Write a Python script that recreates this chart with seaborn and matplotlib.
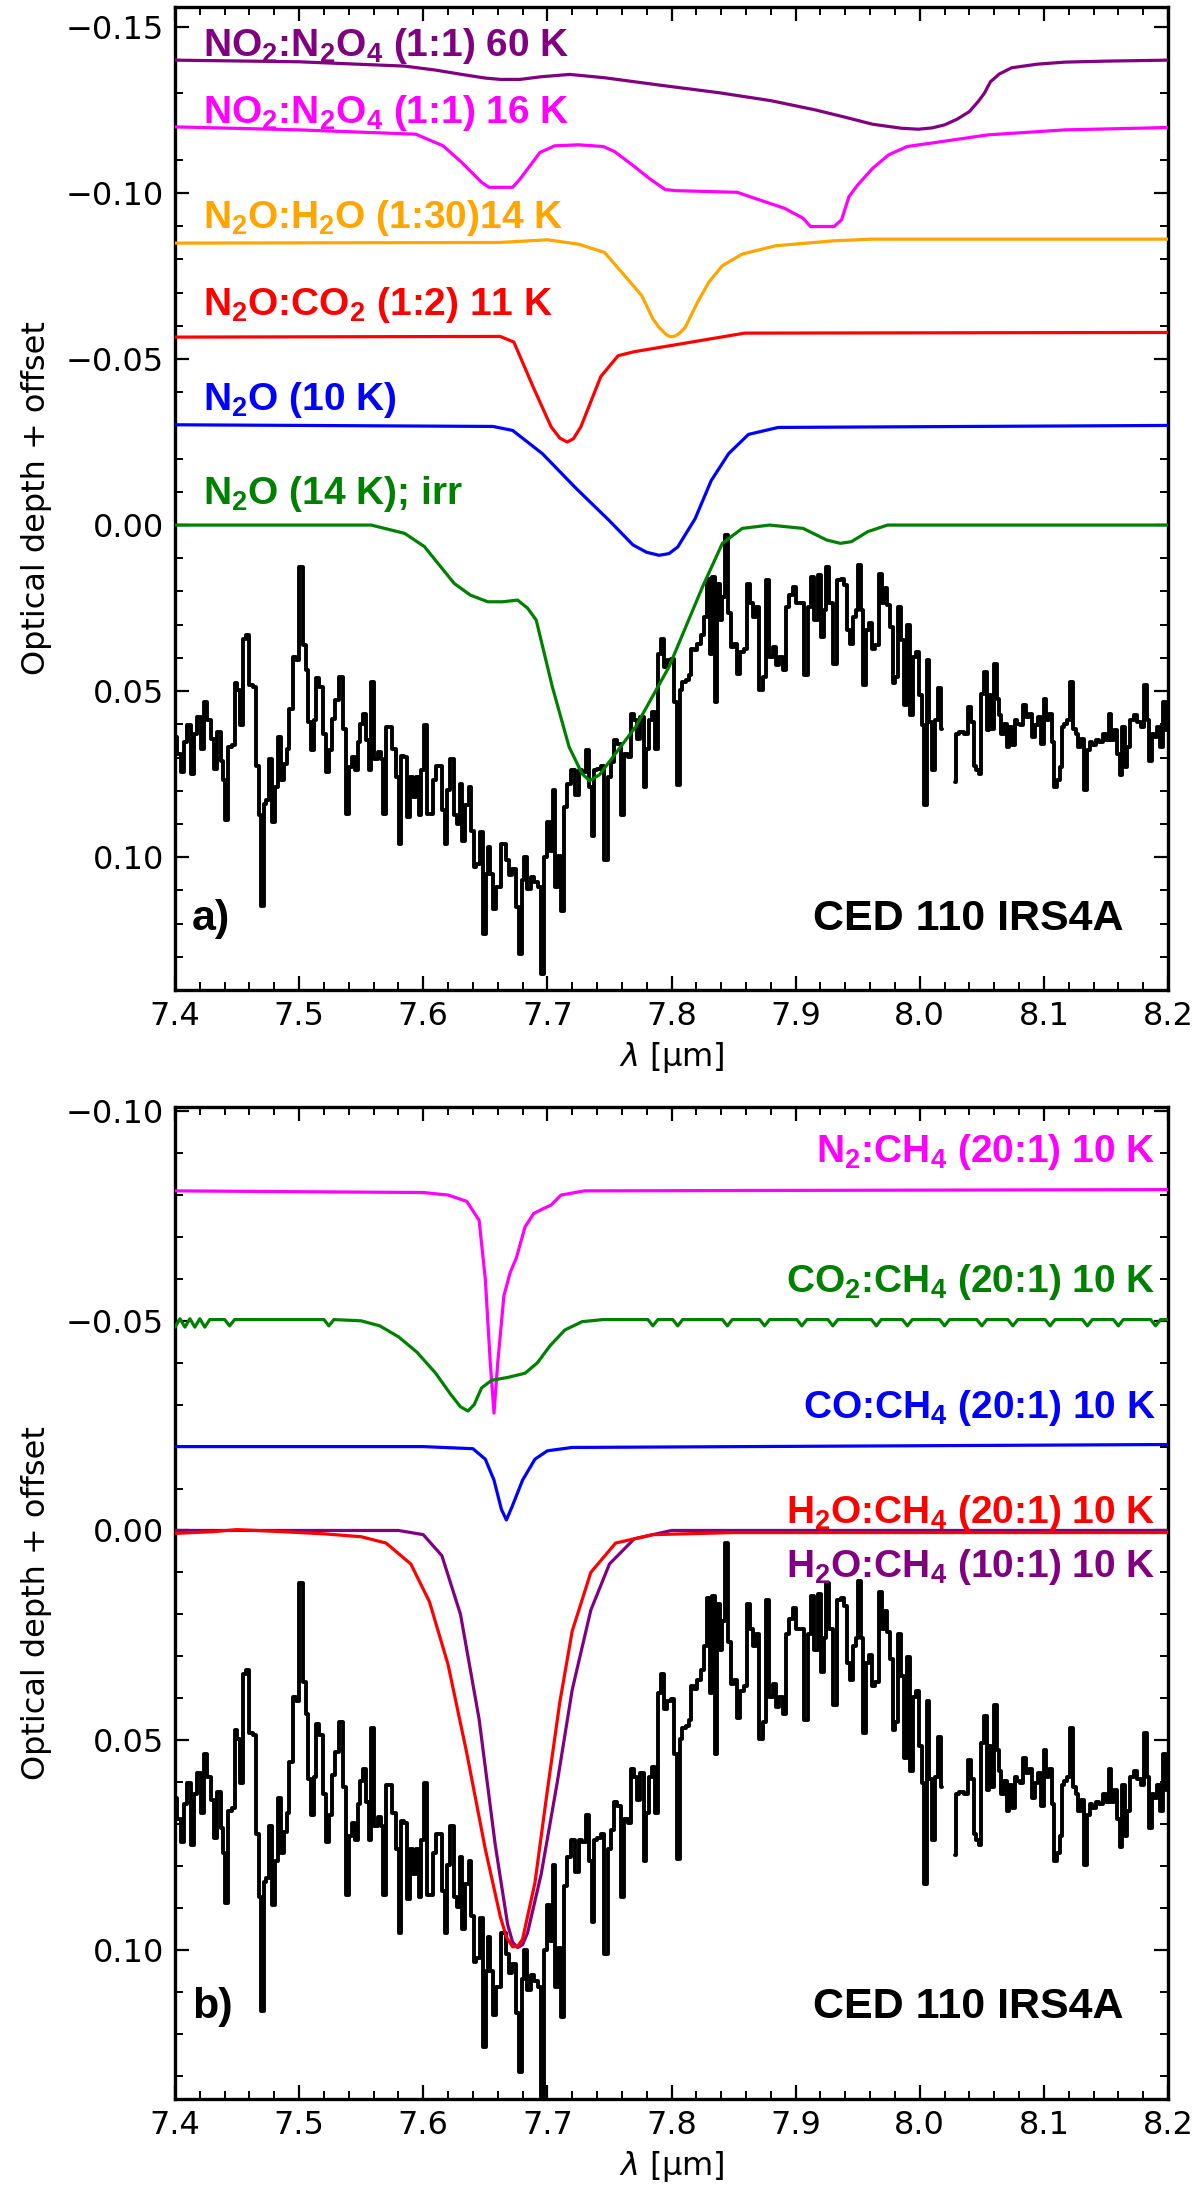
import numpy as np
import pandas as pd
import matplotlib
matplotlib.use("Agg")
import matplotlib.pyplot as plt
import seaborn as sns
from matplotlib.ticker import MultipleLocator

# ---------------- observed spectrum (CED 110 IRS4A) ----------------
obs_wl = [
    7.4005, 7.4032, 7.4059, 7.4086, 7.4113, 7.4140, 7.4167, 7.4194, 7.4220, 7.4247,
    7.4274, 7.4301, 7.4328, 7.4355, 7.4382, 7.4395, 7.4417, 7.4444, 7.4470, 7.4489,
    7.4516, 7.4535, 7.4556, 7.4589, 7.4610, 7.4642, 7.4669, 7.4685, 7.4704, 7.4723,
    7.4745, 7.4766, 7.4798, 7.4820, 7.4841, 7.4866, 7.4892, 7.4911, 7.4933, 7.4965,
    7.4987, 7.5019, 7.5046, 7.5067, 7.5081, 7.5108, 7.5126, 7.5148, 7.5180, 7.5202,
    7.5228, 7.5250, 7.5277, 7.5304, 7.5336, 7.5363, 7.5390, 7.5417, 7.5438, 7.5460,
    7.5484, 7.5503, 7.5524, 7.5551, 7.5573, 7.5591, 7.5618, 7.5645, 7.5672, 7.5685,
    7.5712, 7.5739, 7.5761, 7.5793, 7.5815, 7.5833, 7.5860, 7.5879, 7.5901, 7.5927,
    7.5954, 7.5976, 7.5995, 7.6022, 7.6040, 7.6067, 7.6089, 7.6116, 7.6142, 7.6164,
    7.6185, 7.6202, 7.6237, 7.6255, 7.6282, 7.6304, 7.6325, 7.6352, 7.6379, 7.6398,
    7.6417, 7.6438, 7.6470, 7.6492, 7.6513, 7.6532, 7.6551, 7.6573, 7.6599,
    7.6659, 7.6677, 7.6704, 7.6731, 7.6758, 7.6785, 7.6804, 7.6825, 7.6852, 7.6879,
    7.6906, 7.6938, 7.6960, 7.6987, 7.7008, 7.7035, 7.7054, 7.7073, 7.7099, 7.7126,
    7.7148, 7.7175, 7.7207, 7.7242, 7.7269, 7.7296, 7.7323, 7.7349, 7.7363, 7.7390,
    7.7417, 7.7444, 7.7476, 7.7503, 7.7530, 7.7551, 7.7578, 7.7610, 7.7632, 7.7664,
    7.7691, 7.7712, 7.7734, 7.7761, 7.7788, 7.7809, 7.7833, 7.7860, 7.7879, 7.7901,
    7.7927, 7.7954, 7.7981, 7.8008, 7.8030, 7.8056, 7.8075, 7.8102, 7.8129, 7.8148,
    7.8169, 7.8191, 7.8223, 7.8245, 7.8272, 7.8298, 7.8317, 7.8336, 7.8358, 7.8379,
    7.8398, 7.8417, 7.8444, 7.8465, 7.8487, 7.8513, 7.8540, 7.8567, 7.8594, 7.8621,
    7.8640, 7.8667, 7.8694, 7.8720, 7.8747, 7.8774, 7.8801, 7.8828, 7.8855, 7.8882,
    7.8909, 7.8935, 7.8962, 7.8989, 7.9016, 7.9051, 7.9083, 7.9110, 7.9137, 7.9164,
    7.9191, 7.9218, 7.9239, 7.9258, 7.9285, 7.9312,
    7.9351, 7.9378, 7.9405, 7.9424, 7.9446, 7.9473, 7.9495, 7.9514, 7.9532, 7.9554,
    7.9581, 7.9608, 7.9630, 7.9657, 7.9684, 7.9703, 7.9730, 7.9749, 7.9770, 7.9792,
    7.9811, 7.9838, 7.9865, 7.9884, 7.9911, 7.9938, 7.9959, 7.9986, 8.0008, 8.0027,
    8.0046, 8.0068, 8.0089, 8.0108, 8.0135, 8.0162, 8.0181, 8.0240,
    8.0284, 8.0305, 8.0332, 8.0378, 8.0405, 8.0427, 8.0446, 8.0468, 8.0486, 8.0505,
    8.0527, 8.0549, 8.0568, 8.0586, 8.0608, 8.0630, 8.0649, 8.0668, 8.0689, 8.0711,
    8.0732, 8.0757, 8.0776, 8.0797, 8.0824, 8.0846, 8.0865, 8.0892, 8.0919, 8.0946,
    8.0965, 8.0986, 8.1008, 8.1030, 8.1054, 8.1073, 8.1095, 8.1116, 8.1138, 8.1154,
    8.1176, 8.1203, 8.1224, 8.1246, 8.1268, 8.1289, 8.1311, 8.1338, 8.1359, 8.1378,
    8.1405, 8.1432, 8.1459, 8.1486, 8.1514, 8.1532, 8.1554, 8.1581, 8.1603, 8.1624,
    8.1641, 8.1662, 8.1684, 8.1711, 8.1738, 8.1770, 8.1797, 8.1824, 8.1838, 8.1857,
    8.1878, 8.1900, 8.1919, 8.1946, 8.1973, 8.1995,
]
obs_tau = [
    0.0638, 0.0688, 0.0744, 0.0653, 0.0603, 0.0749, 0.0628, 0.0578, 0.0673, 0.0533,
    0.0588, 0.0643, 0.0734, 0.0623, 0.0709, 0.0769, 0.0889, 0.0668, 0.0663, 0.0477,
    0.0497, 0.0603, 0.0342, 0.0332, 0.0482, 0.0487, 0.0724, 0.0874, 0.1146, 0.0839,
    0.0829, 0.0704, 0.0894, 0.0789, 0.0638, 0.0769, 0.0719, 0.0673, 0.0553, 0.0397,
    0.0407, 0.0126, 0.0362, 0.0437, 0.0593, 0.0678, 0.0588, 0.0462, 0.0487, 0.0628,
    0.0744, 0.0678, 0.0583, 0.0528, 0.0457, 0.0613, 0.0869, 0.0729, 0.0698, 0.0739,
    0.0653, 0.0598, 0.0568, 0.0648, 0.0739, 0.0472, 0.0704, 0.0683, 0.0704, 0.0869,
    0.0608, 0.0608, 0.0673, 0.0759, 0.0960, 0.0694, 0.0698, 0.0879, 0.0759, 0.0819,
    0.0759, 0.0874, 0.0739, 0.0603, 0.0869, 0.0869, 0.0769, 0.0724, 0.0724, 0.0859,
    0.0960, 0.0799, 0.0704, 0.0874, 0.0899, 0.0779, 0.0950, 0.0844, 0.0789, 0.0920,
    0.1030, 0.1020, 0.0925, 0.1231, 0.1050, 0.0970, 0.1050, 0.1156, 0.1090,
    0.0960, 0.1010, 0.1055, 0.1035, 0.1151, 0.1291, 0.1070, 0.1000, 0.1095, 0.1060,
    0.1075, 0.1090, 0.1352, 0.1000, 0.0894, 0.0980, 0.0799, 0.1090, 0.0995, 0.1161,
    0.0849, 0.0779, 0.0739, 0.0814, 0.0739, 0.0744, 0.0678, 0.0789, 0.0935, 0.0739,
    0.0734, 0.0724, 0.1010, 0.0759, 0.0714, 0.0648, 0.0658, 0.0874, 0.0688, 0.0698,
    0.0568, 0.0588, 0.0643, 0.0578, 0.0789, 0.0673, 0.0588, 0.0563, 0.0673, 0.0387,
    0.0342, 0.0427, 0.0407, 0.0402, 0.0533, 0.0784, 0.0497, 0.0472, 0.0467, 0.0452,
    0.0372, 0.0377, 0.0357, 0.0332, 0.0276, 0.0161, 0.0387, 0.0156, 0.0533, 0.0176,
    0.0286, 0.0216, 0.0030, 0.0266, 0.0367, 0.0357, 0.0447, 0.0382, 0.0372, 0.0176,
    0.0236, 0.0276, 0.0246, 0.0497, 0.0457, 0.0166, 0.0397, 0.0367, 0.0422, 0.0397,
    0.0437, 0.0246, 0.0211, 0.0186, 0.0236, 0.0236, 0.0452, 0.0246, 0.0156, 0.0286,
    0.0151, 0.0337, 0.0256, 0.0126, 0.0236, 0.0417,
    0.0166, 0.0161, 0.0181, 0.0317, 0.0357, 0.0276, 0.0256, 0.0121, 0.0256, 0.0482,
    0.0317, 0.0296, 0.0372, 0.0362, 0.0146, 0.0236, 0.0191, 0.0241, 0.0307, 0.0477,
    0.0457, 0.0246, 0.0347, 0.0543, 0.0302, 0.0573, 0.0397, 0.0382, 0.0513, 0.0603,
    0.0844, 0.0407, 0.0593, 0.0739, 0.0588, 0.0492, 0.0613, np.nan,
    0.0774, 0.0628, 0.0623, 0.0628, 0.0548, 0.0593, 0.0724, 0.0739, 0.0749, 0.0508,
    0.0442, 0.0618, 0.0513, 0.0613, 0.0417, 0.0523, 0.0573, 0.0628, 0.0598, 0.0668,
    0.0608, 0.0663, 0.0588, 0.0598, 0.0603, 0.0543, 0.0578, 0.0568, 0.0638, 0.0603,
    0.0578, 0.0658, 0.0523, 0.0588, 0.0568, 0.0653, 0.0789, 0.0769, 0.0729, 0.0608,
    0.0598, 0.0588, 0.0472, 0.0613, 0.0628, 0.0668, 0.0643, 0.0799, 0.0678, 0.0653,
    0.0663, 0.0648, 0.0653, 0.0628, 0.0648, 0.0568, 0.0648, 0.0618, 0.0688, 0.0754,
    0.0608, 0.0729, 0.0668, 0.0588, 0.0573, 0.0593, 0.0608, 0.0482, 0.0588, 0.0709,
    0.0628, 0.0638, 0.0608, 0.0668, 0.0533, 0.0618,
]

# ---------------- panel a lab spectra ----------------
a_purple_wl = [7.400, 7.500, 7.585, 7.610, 7.631, 7.650, 7.662, 7.678, 7.695, 7.718,
               7.746, 7.790, 7.838, 7.880, 7.916, 7.940, 7.962, 7.985, 7.999, 8.010,
               8.020, 8.030, 8.040, 8.047, 8.052, 8.057, 8.064, 8.074, 8.095, 8.117,
               8.150, 8.200]
a_purple_tau = [-0.1400, -0.1395, -0.1382, -0.1370, -0.1357, -0.1346, -0.1342, -0.1342,
                -0.1350, -0.1357, -0.1347, -0.1325, -0.1302, -0.1278, -0.1250, -0.1228,
                -0.1207, -0.1195, -0.1192, -0.1196, -0.1205, -0.1222, -0.1245, -0.1275,
                -0.1300, -0.1335, -0.1358, -0.1377, -0.1388, -0.1394, -0.1397, -0.1400]

a_magenta_wl = [7.400, 7.500, 7.594, 7.616, 7.631, 7.647, 7.653, 7.672, 7.678, 7.684,
                7.694, 7.706, 7.725, 7.745, 7.754, 7.770, 7.782, 7.795, 7.804, 7.853,
                7.863, 7.891, 7.906, 7.912, 7.931, 7.937, 7.943, 7.950, 7.962, 7.975,
                7.990, 8.009, 8.055, 8.117, 8.200]
a_magenta_tau = [-0.1199, -0.1190, -0.1177, -0.1142, -0.1092, -0.1032, -0.1017, -0.1017,
                 -0.1042, -0.1072, -0.1122, -0.1142, -0.1145, -0.1140, -0.1125, -0.1080,
                 -0.1044, -0.1010, -0.1007, -0.1002, -0.0989, -0.0954, -0.0924, -0.0899,
                 -0.0899, -0.0919, -0.0989, -0.1024, -0.1074, -0.1115, -0.1140, -0.1150,
                 -0.1175, -0.1190, -0.1197]

a_orange_wl = [7.400, 7.662, 7.700, 7.725, 7.746, 7.760, 7.776, 7.785, 7.790, 7.796,
               7.799, 7.802, 7.806, 7.811, 7.821, 7.830, 7.841, 7.857, 7.884, 7.931,
               7.962, 8.200]
a_orange_tau = [-0.0849, -0.0851, -0.0859, -0.0846, -0.0821, -0.0761, -0.0691, -0.0621,
                -0.0595, -0.0573, -0.0567, -0.0568, -0.0576, -0.0595, -0.0671, -0.0731,
                -0.0781, -0.0816, -0.0841, -0.0856, -0.0861, -0.0861]

a_red_wl = [7.400, 7.662, 7.673, 7.689, 7.703, 7.710, 7.716, 7.721, 7.727, 7.743,
            7.757, 7.770, 7.797, 7.859, 8.200]
a_red_tau = [-0.0566, -0.0568, -0.0551, -0.0412, -0.0296, -0.0262, -0.0250, -0.0260,
             -0.0296, -0.0447, -0.0510, -0.0522, -0.0539, -0.0578, -0.0580]

a_blue_wl = [7.400, 7.656, 7.672, 7.696, 7.723, 7.750, 7.769, 7.780, 7.790, 7.798,
             7.805, 7.819, 7.832, 7.846, 7.862, 7.886, 8.200]
a_blue_tau = [-0.0302, -0.0297, -0.0285, -0.0215, -0.0111, -0.0013, 0.0060, 0.0082,
              0.0091, 0.0086, 0.0066, -0.0019, -0.0134, -0.0215, -0.0273, -0.0294,
              -0.0300]

a_green_wl = [7.400, 7.558, 7.585, 7.601, 7.612, 7.625, 7.638, 7.652, 7.664, 7.676,
              7.684, 7.691, 7.704, 7.7175, 7.728, 7.734, 7.742, 7.771, 7.798, 7.825,
              7.841, 7.857, 7.879, 7.906, 7.925, 7.936, 7.945, 7.958, 7.974, 8.200]
a_green_tau = [0.0000, 0.0000, 0.0025, 0.0065, 0.0116, 0.0176, 0.0211, 0.0231, 0.0231,
               0.0226, 0.0250, 0.0286, 0.0487, 0.0668, 0.0749, 0.0770, 0.0752, 0.0608,
               0.0427, 0.0186, 0.0055, 0.0010, 0.0000, 0.0010, 0.0045, 0.0055, 0.0050,
               0.0020, 0.0000, 0.0000]

# ---------------- panel b lab spectra ----------------
b_magenta_wl = [7.400, 7.600, 7.620, 7.635, 7.645, 7.650, 7.654, 7.657, 7.660, 7.665,
                7.670, 7.675, 7.682, 7.689, 7.697, 7.703, 7.711, 7.730, 8.200]
b_magenta_tau = [-0.0810, -0.0806, -0.0800, -0.0785, -0.0740, -0.0600, -0.0400, -0.0280,
                 -0.0400, -0.0560, -0.0615, -0.0650, -0.0724, -0.0756, -0.0768, -0.0776,
                 -0.0800, -0.0810, -0.0813]

b_green_wl = [7.400, 7.404, 7.408, 7.412, 7.416, 7.420, 7.424, 7.428,
              7.440, 7.444, 7.448, 7.520, 7.524, 7.528,
              7.550, 7.565, 7.580, 7.595, 7.610, 7.622, 7.630, 7.636, 7.641, 7.647,
              7.655, 7.668, 7.682, 7.692, 7.702, 7.714, 7.728, 7.745,
              7.781, 7.785, 7.789, 7.801, 7.805, 7.809, 7.841, 7.845, 7.849,
              7.871, 7.875, 7.879, 7.901, 7.905, 7.909, 7.926, 7.930, 7.934,
              7.961, 7.965, 7.969, 7.986, 7.990, 7.994, 8.016, 8.020, 8.024,
              8.046, 8.050, 8.054, 8.071, 8.075, 8.079, 8.101, 8.105, 8.109,
              8.131, 8.135, 8.139, 8.156, 8.160, 8.164, 8.186, 8.190, 8.194, 8.200]
b_green_tau = [-0.0485, -0.0505, -0.0485, -0.0505, -0.0485, -0.0505, -0.0485, -0.0503,
               -0.0503, -0.0488, -0.0503, -0.0503, -0.0488, -0.0503,
               -0.0500, -0.0488, -0.0462, -0.0425, -0.0375, -0.0325, -0.0295, -0.0285,
               -0.0300, -0.0340, -0.0358, -0.0365, -0.0375, -0.0400, -0.0440, -0.0478,
               -0.0498, -0.0503,
               -0.0503, -0.0488, -0.0503, -0.0503, -0.0488, -0.0503, -0.0503, -0.0488, -0.0503,
               -0.0503, -0.0488, -0.0503, -0.0503, -0.0488, -0.0503, -0.0503, -0.0488, -0.0503,
               -0.0503, -0.0488, -0.0503, -0.0503, -0.0488, -0.0503, -0.0503, -0.0488, -0.0503,
               -0.0503, -0.0488, -0.0503, -0.0503, -0.0488, -0.0503, -0.0503, -0.0488, -0.0503,
               -0.0503, -0.0488, -0.0503, -0.0503, -0.0488, -0.0503, -0.0503, -0.0488, -0.0503,
               -0.0503]

b_blue_wl = [7.400, 7.600, 7.640, 7.650, 7.657, 7.663, 7.667, 7.672, 7.680, 7.690,
             7.700, 7.720, 8.200]
b_blue_tau = [-0.0200, -0.0200, -0.0195, -0.0170, -0.0120, -0.0050, -0.0025, -0.0060,
              -0.0120, -0.0170, -0.0190, -0.0198, -0.0205]

b_red_wl = [7.400, 7.430, 7.450, 7.480, 7.520, 7.550, 7.570, 7.590, 7.605, 7.620,
            7.635, 7.650, 7.662, 7.667, 7.672, 7.676, 7.680, 7.690, 7.700, 7.710,
            7.720, 7.735, 7.755, 7.785, 7.850, 8.200]
b_red_tau = [0.0007, 0.0003, -0.0002, 0.0002, 0.0008, 0.0015, 0.0030, 0.0080, 0.0170,
             0.0320, 0.0530, 0.0760, 0.0920, 0.0970, 0.0993, 0.0992, 0.0975, 0.0840,
             0.0620, 0.0410, 0.0240, 0.0100, 0.0030, 0.0010, 0.0005, 0.0005]

b_purple_wl = [7.400, 7.580, 7.600, 7.615, 7.630, 7.645, 7.658, 7.668, 7.672, 7.676,
               7.680, 7.684, 7.695, 7.708, 7.720, 7.735, 7.750, 7.770, 7.800, 8.200]
b_purple_tau = [0.0000, 0.0000, 0.0010, 0.0060, 0.0200, 0.0450, 0.0750, 0.0940, 0.0982,
                0.0995, 0.0988, 0.0960, 0.0820, 0.0600, 0.0380, 0.0190, 0.0080, 0.0020,
                0.0000, 0.0000]

# ---------------- labels ----------------
a_labels = [r"NO$_\mathbf{2}$:N$_\mathbf{2}$O$_\mathbf{4}$ (1:1) 60 K",
            r"NO$_\mathbf{2}$:N$_\mathbf{2}$O$_\mathbf{4}$ (1:1) 16 K",
            r"N$_\mathbf{2}$O:H$_\mathbf{2}$O (1:30)14 K",
            r"N$_\mathbf{2}$O:CO$_\mathbf{2}$ (1:2) 11 K",
            r"N$_\mathbf{2}$O (10 K)",
            r"N$_\mathbf{2}$O (14 K); irr"]
a_label_y = [-0.1453, -0.1250, -0.0935, -0.0672, -0.0386, -0.0102]
a_colors = ["#800080", "#ff00ff", "#ffa500", "#ff0000", "#0000ff", "#008000"]

b_labels = [r"N$_\mathbf{2}$:CH$_\mathbf{4}$ (20:1) 10 K",
            r"CO$_\mathbf{2}$:CH$_\mathbf{4}$ (20:1) 10 K",
            r"CO:CH$_\mathbf{4}$ (20:1) 10 K",
            r"H$_\mathbf{2}$O:CH$_\mathbf{4}$ (20:1) 10 K",
            r"H$_\mathbf{2}$O:CH$_\mathbf{4}$ (10:1) 10 K"]
b_label_y = [-0.0910, -0.0600, -0.0300, -0.0050, 0.0080]
b_colors = ["#ff00ff", "#008000", "#0000ff", "#ff0000", "#800080"]

source_name = "CED 110 IRS4A"
panel_tags = ["a)", "b)"]

# ---------------- style ----------------
sns.set_theme(style="ticks")
plt.rcParams["font.family"] = ["DejaVu Sans"]
plt.rcParams["text.color"] = "black"
plt.rcParams["axes.labelcolor"] = "black"
plt.rcParams["mathtext.fontset"] = "custom"
plt.rcParams["mathtext.rm"] = "Liberation Sans"
plt.rcParams["mathtext.bf"] = "Liberation Sans:bold"
plt.rcParams["mathtext.it"] = "DejaVu Sans:italic"
plt.rcParams["axes.unicode_minus"] = True

fig = plt.figure(figsize=(12, 21.93), dpi=100)
W, H = 1200.0, 2193.0
axA = fig.add_axes([175 / W, 1 - 990 / H, 993 / W, 983 / H])
axB = fig.add_axes([175 / W, 1 - 2099 / H, 993 / W, 992 / H])

LAB_FONT = "Liberation Sans"


def draw_obs(ax):
    wl = np.asarray(obs_wl, dtype=float)
    tau = np.asarray(obs_tau, dtype=float)
    bad = np.isnan(tau)
    cuts = np.where(bad)[0]
    for idx in np.split(np.arange(len(tau)), cuts):
        idx = idx[~bad[idx]]
        if len(idx) < 2:
            continue
        df = pd.DataFrame({"wl": wl[idx], "tau": tau[idx]})
        sns.lineplot(data=df, x="wl", y="tau", ax=ax, color="black", lw=2.8,
                     drawstyle="steps-mid", estimator=None, sort=False, legend=False,
                     zorder=2)


def draw_curve(ax, wl, tau, color):
    df = pd.DataFrame({"wl": wl, "tau": tau})
    sns.lineplot(data=df, x="wl", y="tau", ax=ax, color=color, lw=2.3,
                 estimator=None, sort=False, legend=False, zorder=3)


def style_axis(ax, ylim):
    ax.set_xlim(7.4, 8.2)
    ax.set_ylim(*ylim)
    ax.xaxis.set_major_locator(MultipleLocator(0.1))
    ax.xaxis.set_minor_locator(MultipleLocator(0.02))
    ax.yaxis.set_major_locator(MultipleLocator(0.05))
    ax.yaxis.set_minor_locator(MultipleLocator(0.01))
    ax.tick_params(which="both", direction="in", top=True, right=True,
                   colors="black", labelsize=23, pad=8)
    ax.tick_params(which="major", length=10, width=1.6)
    ax.tick_params(which="minor", length=6, width=1.4)
    for s in ax.spines.values():
        s.set_linewidth(2.4)
        s.set_color("black")
    ax.set_xlabel(r"$\lambda$ [µm]", fontsize=23, labelpad=6, color="black")
    ax.set_ylabel("Optical depth + offset", fontsize=23, labelpad=10, color="black")
    ax.set_facecolor("white")


# ---------------- panel a ----------------
draw_obs(axA)
for wl, tau, c in [(a_purple_wl, a_purple_tau, a_colors[0]),
                   (a_magenta_wl, a_magenta_tau, a_colors[1]),
                   (a_orange_wl, a_orange_tau, a_colors[2]),
                   (a_red_wl, a_red_tau, a_colors[3]),
                   (a_blue_wl, a_blue_tau, a_colors[4]),
                   (a_green_wl, a_green_tau, a_colors[5])]:
    draw_curve(axA, wl, tau, c)
style_axis(axA, (0.140, -0.156))
for txt, y, c in zip(a_labels, a_label_y, a_colors):
    axA.text(7.4226, y + 0.0040, txt, color=c, fontsize=28, fontweight="bold",
             family=LAB_FONT, ha="left", va="baseline")
axA.text(0.017, 0.072, panel_tags[0], transform=axA.transAxes, fontsize=31,
         fontweight="bold", family=LAB_FONT, ha="left", va="center", color="black")
axA.text(0.955, 0.072, source_name, transform=axA.transAxes, fontsize=31,
         fontweight="bold", family=LAB_FONT, ha="right", va="center", color="black")

# ---------------- panel b ----------------
draw_obs(axB)
for wl, tau, c in [(b_magenta_wl, b_magenta_tau, b_colors[0]),
                   (b_green_wl, b_green_tau, b_colors[1]),
                   (b_blue_wl, b_blue_tau, b_colors[2]),
                   (b_purple_wl, b_purple_tau, b_colors[4]),
                   (b_red_wl, b_red_tau, b_colors[3])]:
    draw_curve(axB, wl, tau, c)
style_axis(axB, (0.1356, -0.101))
for txt, y, c in zip(b_labels, b_label_y, b_colors):
    axB.text(8.19, y + 0.0032, txt, color=c, fontsize=28, fontweight="bold",
             family=LAB_FONT, ha="right", va="baseline")
axB.text(0.017, 0.093, panel_tags[1], transform=axB.transAxes, fontsize=31,
         fontweight="bold", family=LAB_FONT, ha="left", va="center", color="black")
axB.text(0.955, 0.093, source_name, transform=axB.transAxes, fontsize=31,
         fontweight="bold", family=LAB_FONT, ha="right", va="center", color="black")

fig.savefig("out.png", dpi=100, facecolor="white")
